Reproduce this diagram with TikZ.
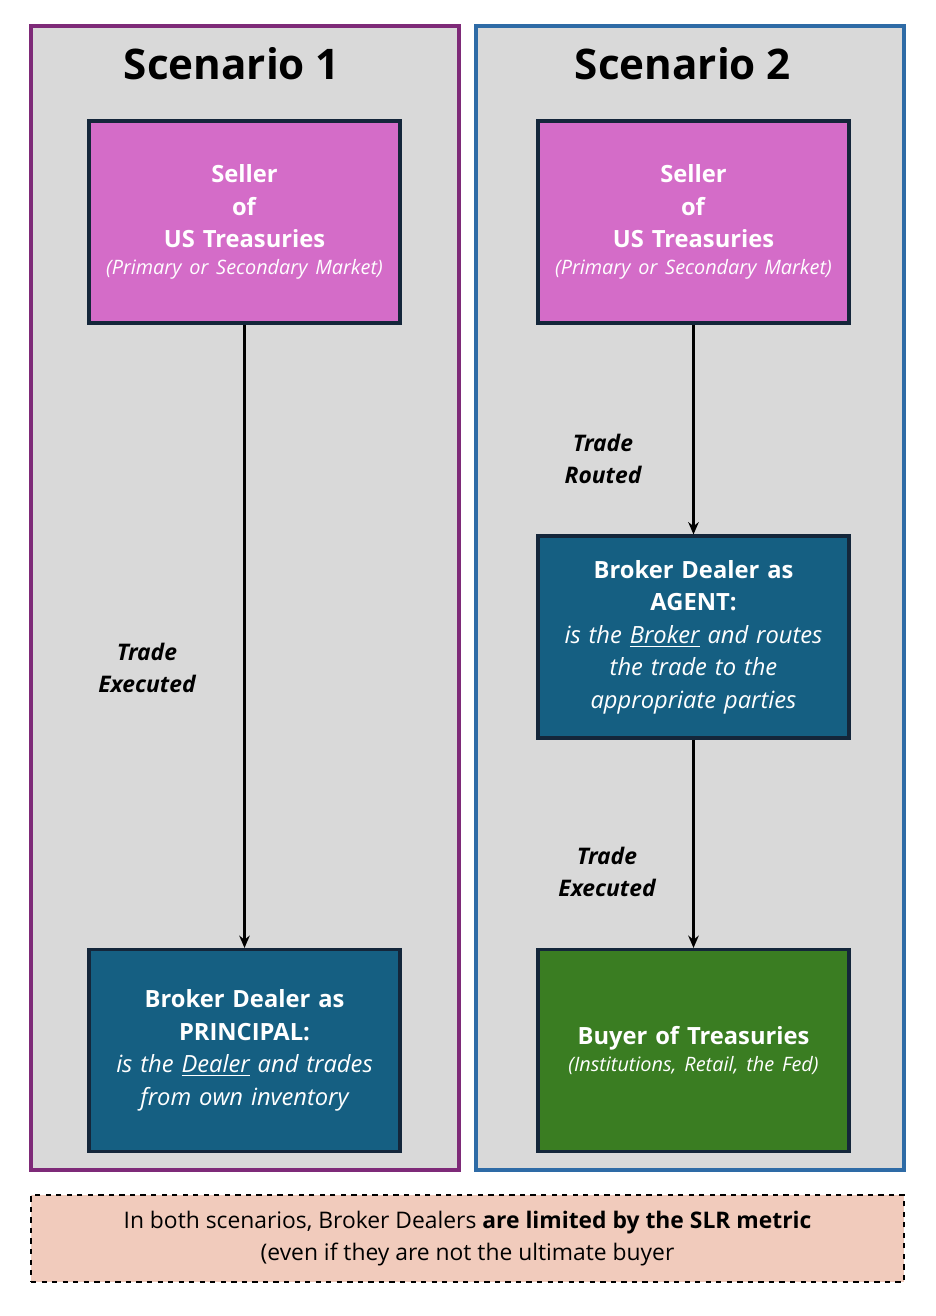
\documentclass[tikz,border=0pt]{standalone}
\usepackage{fontspec}
\setmainfont{Open Sans}
\usepackage{tikz}
\usetikzlibrary{positioning,arrows.meta}
\definecolor{panelgray}{HTML}{D9D9D9}
\definecolor{purpleline}{HTML}{7E2A78}
\definecolor{blueline}{HTML}{2E6BA6}
\definecolor{orchidfill}{HTML}{D46CC8}
\definecolor{tealfill}{HTML}{155F82}
\definecolor{greenfill}{HTML}{3A7D22}
\definecolor{boxline}{HTML}{14263A}
\definecolor{notefill}{HTML}{F1CBBC}
\tikzset{
  box/.style={draw=boxline, line width=1.8pt, minimum width=311*0.02cm, minimum height=202*0.02cm, text width=296*0.02cm, inner sep=1pt, align=center, text=white, font=\fontsize{13.5}{18.5}\selectfont},
  flow/.style={-{Stealth[length=7pt,width=6pt]}, line width=1.4pt},
  lbl/.style={font=\fontsize{13}{18}\selectfont\bfseries\itshape, align=center}
}
\newcommand{\sub}[1]{{\fontsize{11.3}{14}\selectfont\itshape #1}}
\begin{document}
\begin{tikzpicture}[x=0.02cm, y=-0.02cm]
            \useasboundingbox (0,0) rectangle (936,1316);
            % Paneles
            \draw[purpleline, line width=1.8pt, fill=panelgray] (31,26) rectangle (459,1170);
            \draw[blueline, line width=1.8pt, fill=panelgray] (476,26) rectangle (904,1170);
            \node[font=\fontsize{24}{28}\selectfont\bfseries] (t1) at (232,64) {Scenario 1};
            \node[font=\fontsize{24}{28}\selectfont\bfseries] (t2) at (683,64) {Scenario 2};
            % Nodos
            \node[box, fill=orchidfill] (seller1) at (244.5,222) {\textbf{Seller}\\\textbf{of}\\\textbf{US Treasuries}\\[-3pt]\sub{(Primary or Secondary Market)}};
            \node[box, fill=tealfill] (principal) at (244.5,1050.5) {\textbf{Broker Dealer as}\\\textbf{PRINCIPAL:}\\\itshape is the \underline{Dealer} and trades\\\itshape from own inventory};
            \node[box, fill=orchidfill] (seller2) at (693.5,222) {\textbf{Seller}\\\textbf{of}\\\textbf{US Treasuries}\\[-3pt]\sub{(Primary or Secondary Market)}};
            \node[box, fill=tealfill] (agent) at (693.5,637) {\textbf{Broker Dealer as}\\\textbf{AGENT:}\\\itshape is the \underline{Broker} and routes\\\itshape the trade to the\\\itshape appropriate parties};
            \node[box, fill=greenfill] (buyer) at (693.5,1050.5) {\textbf{Buyer of Treasuries}\\[-3pt]\sub{(Institutions, Retail, the Fed)}};
            % Aristas
            \draw[flow] (seller1) -- (principal);
            \draw[flow] (seller2) -- (agent);
            \draw[flow] (agent) -- (buyer);
            \node[lbl] (exec1) at (147,668) {Trade\\Executed};
            \node[lbl] (routed) at (603,459) {Trade\\Routed};
            \node[lbl] (exec2) at (607,872) {Trade\\Executed};
            % Nota
            \node[draw, dashed, line width=1.2pt, fill=notefill, minimum width=873*0.02cm, minimum height=87*0.02cm, align=center, font=\fontsize{13}{18}\selectfont] (note) at (467.5,1238.5) {In both scenarios, Broker Dealers \textbf{are limited by the SLR metric}\\(even if they are not the ultimate buyer};
          \end{tikzpicture}
\end{document}
